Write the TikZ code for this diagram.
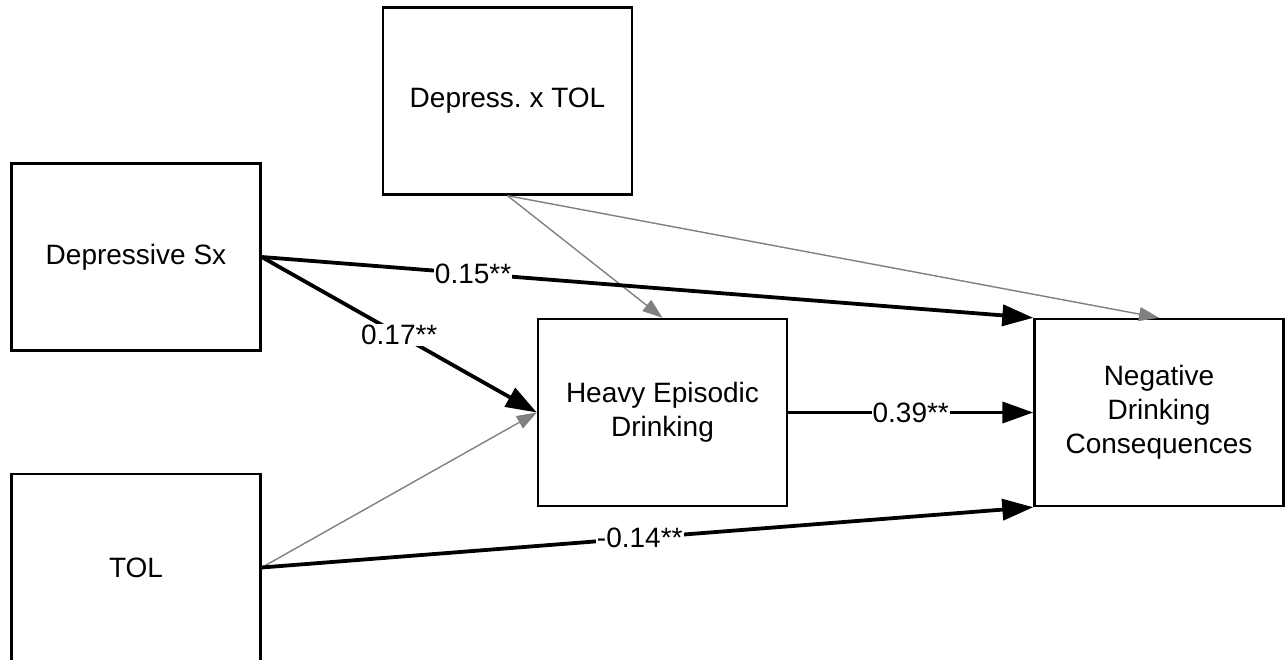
\documentclass[tikz,border=0pt]{standalone}
\usepackage{fontspec}
\setmainfont{Liberation Sans}
\usetikzlibrary{arrows.meta}
\begin{document}
\begin{tikzpicture}[x=1pt,y=-1pt,
  box/.style={draw=black, line width=2.4pt, rectangle, fill=white,
    minimum width=249pt, minimum height=187pt, align=center,
    font=\fontsize{28}{34}\selectfont, inner sep=0pt},
  strong/.style={line width=3.8pt, black, -{Triangle[length=31pt,width=21pt]}},
  weak/.style={line width=1.4pt, gray, -{Triangle[length=20pt,width=14pt]}},
  coef/.style={fill=white, inner sep=1pt, font=\fontsize{28}{30}\selectfont}]
\useasboundingbox (0,0) rectangle (1285,660);
\node[box] (dxt) at (507.5,101) {Depress.\ x TOL};
\node[box] (ds)  at (136,257) {Depressive Sx};
\node[box] (tol) at (136,567.5) {TOL};
\node[box] (hed) at (662.5,412.5) {Heavy Episodic\\Drinking};
\node[box] (ndc) at (1159,412.5) {Negative\\Drinking\\Consequences};
\draw[weak] (dxt.south) -- (hed.north);
\draw[weak] (dxt.south) -- (ndc.north);
\draw[weak] (tol.east) -- (hed.west);
\draw[strong] (ds.east) -- node[coef, pos=0.5] {0.17**} (hed.west);
\draw[strong] (ds.east) -- node[coef, pos=0.274] {0.15**} (ndc.north west);
\draw[strong] (hed.east) -- node[coef, pos=0.5] {0.39**} (ndc.west);
\draw[strong] (tol.east) -- node[coef, pos=0.49] {-0.14**} (ndc.south west);
\end{tikzpicture}
\end{document}
